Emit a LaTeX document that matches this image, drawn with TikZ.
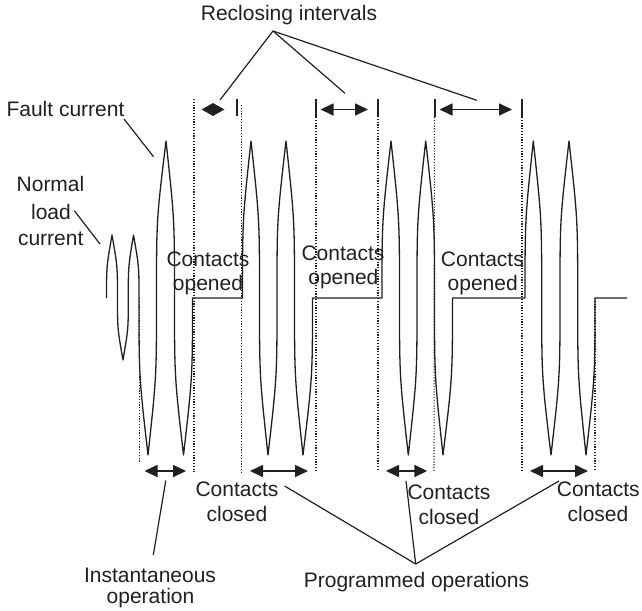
\documentclass[tikz,border=0pt]{standalone}
\usepackage{fontspec}
\setmainfont{Liberation Sans}
\usetikzlibrary{arrows.meta}
\definecolor{ink}{HTML}{231F20}
\begin{document}
\begin{tikzpicture}[x=1pt,y=-1pt,
  wave/.style={draw=ink,line width=1.3pt,line join=round},
  dotline/.style={draw=ink,line width=1.1pt,dash pattern=on 1.1pt off 1.7pt},
  tickmark/.style={draw=ink,line width=1.4pt},
  span/.style={draw=ink,line width=1.7pt,{Triangle[length=13pt,width=12pt]}-{Triangle[length=13pt,width=12pt]}},
  smallspan/.style={draw=ink,line width=1.7pt,{Triangle[length=11.5pt,width=12.4pt]}-{Triangle[length=11.5pt,width=12.4pt]}},
  leader/.style={draw=ink,line width=1.2pt},
  lbl/.style={text=ink,inner sep=0pt,anchor=base,font=\fontsize{21}{25}\selectfont}]
\useasboundingbox (0,0) rectangle (642,610);

% ---- waveform ----
\draw[wave] (106.5,298)
  foreach \a/\m/\b/\p in {106.5/112/117.5/235, 117.5/123/128.3/360, 128.3/133.5/139/235,
                          139/148/156.5/455, 156.5/166/174.5/141, 174.5/183.5/192.5/455}
  { .. controls (\a,{(298+\p)/2}) .. (\m,\p) .. controls (\b,{(298+\p)/2}) .. (\b,298) }
  -- (242.5,298)
  foreach \a/\m/\b/\p in {242.5/251/259.5/141, 259.5/268/277/455, 277/286/294.5/141, 294.5/303/312.5/455}
  { .. controls (\a,{(298+\p)/2}) .. (\m,\p) .. controls (\b,{(298+\p)/2}) .. (\b,298) }
  -- (382,298)
  foreach \a/\m/\b/\p in {382/391/399.5/141, 399.5/408.3/417/455, 417/425.7/434.5/141, 434.5/443/452.5/455}
  { .. controls (\a,{(298+\p)/2}) .. (\m,\p) .. controls (\b,{(298+\p)/2}) .. (\b,298) }
  -- (525,298)
  foreach \a/\m/\b/\p in {525/533.3/541.7/141, 541.7/551/560/455, 560/569/577.7/141, 577.7/586/595/455}
  { .. controls (\a,{(298+\p)/2}) .. (\m,\p) .. controls (\b,{(298+\p)/2}) .. (\b,298) }
  -- (627,298);

% ---- dotted boundaries ----
\draw[dotline] (139.3,298) -- (139.3,463);
\draw[dotline] (194,99) -- (194,472);
\draw[dotline] (241.7,105) -- (241.7,472);
\draw[dotline] (316,117) -- (316,472);
\draw[dotline] (378,116) -- (378,470);
\draw[dotline] (434.5,117) -- (434,472);
\draw[dotline] (522,117) -- (522,470);
\draw[dotline] (595,298) -- (595,470);

% ---- solid ticks ----
\draw[tickmark] (237,99) -- (237,116);
\draw[tickmark] (316,99) -- (316,117);
\draw[tickmark] (378,99) -- (378,116);
\draw[tickmark] (435,99) -- (435,117);
\draw[tickmark] (522,99) -- (522,117);

% ---- interval arrows ----
\coordinate (r1a) at (201.5,109.5); \coordinate (r1b) at (224.5,109.5);
\coordinate (r2a) at (320.5,109.5); \coordinate (r2b) at (368,109.5);
\coordinate (r3a) at (439.5,109.5); \coordinate (r3b) at (512,109.5);
\draw[smallspan] (r1a) -- (r1b);
\draw[span] (r2a) -- (r2b);
\draw[span] (r3a) -- (r3b);

\coordinate (c1a) at (144.5,471); \coordinate (c1b) at (186,471);
\coordinate (c2a) at (250,471); \coordinate (c2b) at (308,471);
\coordinate (c3a) at (386,471); \coordinate (c3b) at (427.3,471);
\coordinate (c4a) at (530,471); \coordinate (c4b) at (588,471);
\draw[span] (c1a) -- (c1b);
\draw[span] (c2a) -- (c2b);
\draw[span] (c3a) -- (c3b);
\draw[span] (c4a) -- (c4b);

% ---- leaders ----
\coordinate (recApex) at (273,31);
\coordinate (recE1) at (220,100);
\coordinate (recE2) at (345,93.3);
\coordinate (recE3) at (477,100.4);
\draw[leader] (recApex) -- (recE1);
\draw[leader] (recApex) -- (recE2);
\draw[leader] (recApex) -- (recE3);

\coordinate (faultS) at (124,119);
\coordinate (faultE) at (153.5,156.7);
\draw[leader] (faultS) -- (faultE);

\coordinate (normS) at (74.3,210.7);
\coordinate (normE) at (100,244);
\draw[leader] (normS) -- (normE);

\coordinate (instS) at (153.3,555);
\coordinate (instE) at (165.8,480.5);
\draw[leader] (instS) -- (instE);

\coordinate (progApex) at (415.7,564);
\coordinate (progE1) at (284.6,486);
\coordinate (progE2) at (406,481);
\coordinate (progE3) at (559,481);
\draw[leader] (progApex) -- (progE1);
\draw[leader] (progApex) -- (progE2);
\draw[leader] (progApex) -- (progE3);

% ---- labels ----
\node[lbl] (recl) at (289,21) {Reclosing intervals};
\node[lbl] (fault) at (65.5,116) {Fault current};
\node[lbl] (norm1) at (50.5,191.7) {Normal};
\node[lbl] (norm2) at (51,219.3) {load};
\node[lbl] (norm3) at (50.7,245) {current};

\node[lbl] (op1a) at (208,266) {Contacts};
\node[lbl] (op1b) at (208,290) {opened};
\node[lbl] (op2a) at (343,260.6) {Contacts};
\node[lbl] (op2b) at (343.4,284.6) {opened};
\node[lbl] (op3a) at (482.4,266) {Contacts};
\node[lbl] (op3b) at (482.7,290) {opened};

\node[lbl] (cl1a) at (237,496.7) {Contacts};
\node[lbl] (cl1b) at (237,521.7) {closed};
\node[lbl] (cl2a) at (449,499.4) {Contacts};
\node[lbl] (cl2b) at (449,524.4) {closed};
\node[lbl] (cl3a) at (598.3,496.7) {Contacts};
\node[lbl] (cl3b) at (598,521.7) {closed};

\node[lbl] (inst1) at (150,582.7) {Instantaneous};
\node[lbl] (inst2) at (150.5,603.5) {operation};
\node[lbl] (prog) at (416.5,587.3) {Programmed operations};
\end{tikzpicture}
\end{document}
